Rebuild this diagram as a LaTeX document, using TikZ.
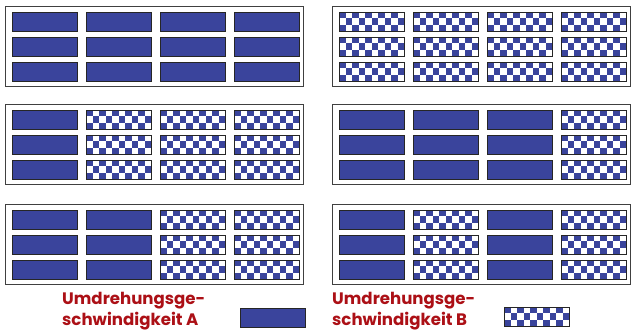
\documentclass[tikz,border=0pt]{standalone}
\usepackage{fontspec}
\setmainfont{Poppins}
\usetikzlibrary{calc}
\definecolor{blueA}{RGB}{58,68,156}
\definecolor{legred}{RGB}{172,16,22}
\tikzset{
  block/.style={draw=black!85, line width=0.9pt, minimum width=65pt, minimum height=19pt,
    inner sep=0pt, outer sep=0pt, anchor=north west},
  blockA/.style={block, fill=blueA},
  blockB/.style={block, fill=white, path picture={
      \foreach \i in {0,...,9}{\foreach \j in {0,1,2}{
        \pgfmathtruncatemacro\k{\i+\j}
        \ifodd\k\else
          \fill[blueA] ($(path picture bounding box.south west)+(\i*6.5pt,\j*6.333pt)$) rectangle ++(6.5pt,6.333pt);
        \fi}}}},
  panel/.style={draw=black!75, line width=0.9pt, fill=white, minimum width=298pt,
    minimum height=80pt, inner sep=0pt, outer sep=0pt, anchor=north west},
  legend/.style={text=legred, font=\bfseries\fontsize{16.6}{21}\selectfont, align=left,
    anchor=north west, inner sep=0pt}
}
\begin{document}
\begin{tikzpicture}[x=1pt,y=-1pt]
\useasboundingbox (0,0) rectangle (631,335);
\fill[white] (0,0) rectangle (631,335);
\foreach \n/\px/\py/\a/\b/\c/\d in {
  pTL/5/6/A/A/A/A, pTR/332/6/B/B/B/B,
  pML/5/104/A/B/B/B, pMR/332/104/A/A/A/B,
  pBL/5/204/A/A/B/B, pBR/332/204/A/B/A/B}{
  \node[panel] (\n) at (\px,\py) {};
  \foreach \col/\t in {1/\a,2/\b,3/\c,4/\d}{
    \foreach \row in {1,2,3}{
      \node[block\t] (\n-\row-\col) at (\px+7+\col*74-74, \py+6+\row*25-25) {};
    }
  }
}
\node[legend] (legA) at (62,292) {Umdrehungsge-\\schwindigkeit A};
\node[blockA] (keyA) at (240,308) {};
\node[legend] (legB) at (332,292) {Umdrehungsge-\\schwindigkeit B};
\node[blockB] (keyB) at (504,307) {};
\end{tikzpicture}
\end{document}
